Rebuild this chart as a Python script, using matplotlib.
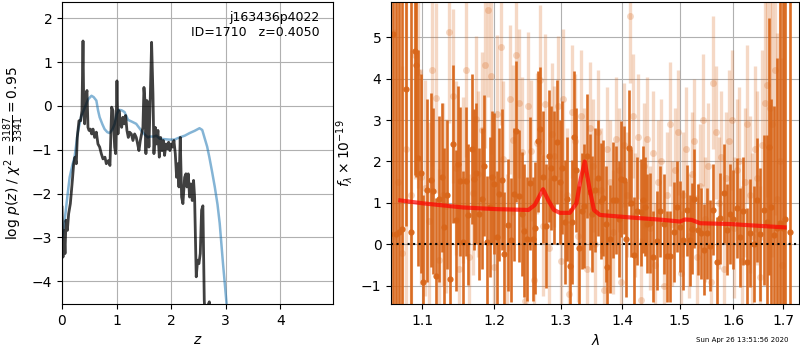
import numpy as np
import matplotlib
matplotlib.use('Agg')
import matplotlib.pyplot as plt
from matplotlib.ticker import FixedLocator, FixedFormatter, NullLocator

# ---- left panel: p(z) and chi2 curves
z_pz = [0.0, 0.018, 0.037, 0.055, 0.073, 0.098, 0.122, 0.153, 0.19, 0.214, 0.238, 0.262, 0.28, 0.311,
        0.342, 0.366, 0.385, 0.397, 0.415, 0.433, 0.458, 0.476, 0.495, 0.519, 0.543, 0.568, 0.598,
        0.629, 0.659, 0.69, 0.72, 0.751, 0.787, 0.812, 0.849, 0.879, 0.91, 0.934, 0.965, 0.983,
        1.007, 1.026, 1.044, 1.068, 1.093, 1.117, 1.142, 1.166, 1.19, 1.215, 1.239, 1.27, 1.3,
        1.331, 1.361, 1.386, 1.41, 1.435, 1.459, 1.483, 1.502, 1.52, 1.538, 1.557, 1.575, 1.593,
        1.618, 1.642, 1.667, 1.685, 1.709, 1.734, 1.758, 1.783, 1.807, 1.832, 1.856, 1.88, 1.905,
        1.929, 1.954, 1.978, 2.002, 2.027, 2.051, 2.076, 2.1, 2.125, 2.143, 2.167, 2.192, 2.216,
        2.247, 2.271, 2.289, 2.314, 2.338, 2.363, 2.387, 2.411, 2.43, 2.46, 2.485, 2.509, 2.534,
        2.558, 2.582, 2.607, 2.625, 2.66, 2.7, 2.72]
log_pz = [-2.31, -3.45, -2.84, -3.37, -2.61, -2.84, -2.46, -2.23, -1.70, -1.32, -1.17, -1.32, -0.72,
          -0.34, -0.34, -0.11, 1.48, 0.12, -0.41, 0.2, 0.35, -0.49, -0.56, -0.53, -0.64, -0.53, -0.72,
          -0.6, -0.87, -0.94, -1.09, -1.21, -1.17, -1.32, -1.25, -1.36, -0.03, -0.11, -0.94, -1.09,
          0.57, -0.64, -0.11, -0.34, -0.49, -0.26, -0.41, -0.22, -0.56, -0.72, -0.6, -0.64, -0.79,
          -0.64, -0.72, -0.87, -1.02, -0.79, -0.64, -0.49, 0.42, 0.12, -1.09, 0.12, -0.11, -0.94,
          0.2, 1.45, 0.27, -1.09, -0.49, -0.87, -0.56, -1.17, -0.72, -1.02, -0.79, -1.13, -0.87,
          -0.98, -0.83, -1.02, -0.87, -0.94, -0.79, -1.09, -1.63, -1.32, -1.85, -0.72, -2.08, -2.23,
          -1.63, -1.55, -1.85, -1.55, -2.08, -1.78, -2.16, -1.7, -2.08, -3.9, -3.52, -3.6, -3.37,
          -2.38, -2.28, -4.43, -4.9, -4.6, -4.47, -5.2]

z_chi = [0.0, 0.05, 0.10, 0.14, 0.19, 0.23, 0.29, 0.35, 0.42, 0.48, 0.54, 0.58, 0.63, 0.66, 0.69,
         0.74, 0.78, 0.83, 0.87, 0.92, 0.965, 1.0, 1.04, 1.09, 1.145, 1.21, 1.28, 1.36, 1.45, 1.52,
         1.575, 1.606, 1.68, 1.73, 1.79, 1.88, 1.97, 2.06, 2.155, 2.25, 2.34, 2.43, 2.52, 2.57, 2.61,
         2.66, 2.70, 2.75, 2.80, 2.85, 2.89, 2.95, 3.01, 3.05]
chi_curve = [-3.05, -2.6, -2.05, -1.63, -1.35, -1.17, -0.6, -0.25, -0.03, 0.15, 0.23, 0.2, 0.12, -0.1,
             -0.26, -0.42, -0.53, -0.6, -0.62, -0.55, -0.41, -0.2, -0.09, -0.1, -0.14, -0.32, -0.36,
             -0.41, -0.56, -0.66, -0.72, -0.7, -0.7, -0.68, -0.75, -0.76, -0.77, -0.77, -0.72, -0.68,
             -0.62, -0.57, -0.51, -0.55, -0.72, -0.93, -1.17, -1.5, -1.85, -2.25, -2.68, -3.59, -4.43,
             -5.0]

# ---- right panel: spectrum, dark set
wave_a = [1.058, 1.062, 1.066, 1.070, 1.074, 1.079, 1.085, 1.090, 1.092, 1.095, 1.098, 1.101, 1.106,
          1.112, 1.115, 1.118, 1.122, 1.126, 1.129, 1.133, 1.137, 1.141, 1.145, 1.148, 1.151, 1.156,
          1.160, 1.162, 1.168, 1.171, 1.174, 1.178, 1.182, 1.185, 1.189, 1.193, 1.196, 1.199, 1.203,
          1.206, 1.211, 1.214, 1.220, 1.224, 1.228, 1.232, 1.236, 1.240, 1.244, 1.248, 1.252, 1.257,
          1.260, 1.265, 1.268, 1.273, 1.277, 1.281, 1.285, 1.289, 1.294, 1.299, 1.302, 1.306, 1.310,
          1.314, 1.317, 1.321, 1.324, 1.328, 1.333, 1.337, 1.341, 1.346, 1.350, 1.355, 1.359, 1.365,
          1.368, 1.372, 1.375, 1.379, 1.384, 1.390, 1.395, 1.398, 1.402, 1.406, 1.412, 1.415, 1.420,
          1.425, 1.431, 1.435, 1.439, 1.443, 1.447, 1.453, 1.459, 1.465, 1.472, 1.477, 1.483, 1.489,
          1.495, 1.501, 1.506, 1.513, 1.519, 1.523, 1.527, 1.533, 1.539, 1.545, 1.550, 1.556, 1.562,
          1.569, 1.575, 1.582, 1.588, 1.594, 1.600, 1.607, 1.613, 1.620, 1.627, 1.633, 1.640, 1.647,
          1.653, 1.660, 1.667, 1.670, 1.675, 1.680, 1.687, 1.693, 1.699, 1.704, 1.714]
flux_a = [0.25, 5.07, 0.25, 0.29, 0.36, 3.75, 0.3, 4.67, 4.32, 2.08, 1.72, -0.91, 1.3,
          1.55, 1.29, -0.77, 1.09, 1.62, 0.42, 1.2, -0.83, 2.42, 0.58, 1.93, 1.52, 0.06,
          1.52, 0.71, 2.3, 1.57, 1.72, 0.73, 1.1, 1.9, 0.06, 0.9, 1.63, 1.46, 0.17,
          1.21, 1.56, -0.24, 0.47, 0.1, 1.21, 2.73, 1.17, 0.74, 0.33, 0.13, 1.47, 0.13,
          0.39, 2.49, 2.79, 1.63, 0.44, 2.13, 1.85, 1.61, 2.47, 1.5, 1.85, 0.54, 1.1,
          -0.53, 0.54, 2.58, 1.8, -0.09, 0.8, 0.93, 2.13, 1.27, 0.73, 1.32, 1.6, 1.04,
          1.13, 0.5, -0.54, 0.13, 1.07, 1.07, 0.6, 1.58, 1.56, 0.13, 2.33, 0.99, -0.26,
          0.8, 0.77, 1.08, 0.91, 0.5, 0.51, -0.3, 0.09, 0.8, 0.49, -0.29, -0.29, 0.3,
          0.91, 0.43, 0.1, 0.82, 0.1, 0.38, 1.1, 0.35, 0.27, -0.13, 0.27, -0.03, 0.84,
          -0.43, 0.63, 1.23, 0.35, 0.73, 0.6, 0.88, 0.17, 0.8, -0.43, 0.27, 0.0, 1.07,
          0.24, 0.83, 0.55, 2.36, 0.91, 0.23, 0.39, 0.51, 0.4, 0.6, 0.3]
err_a = [8, 8, 8, 8, 6, 3.3, 6, 3.0, 2.7, 2.6, 2.4, 2.1, 2.2,
         2.1, 2.0, 1.9, 2.0, 1.8, 1.9, 1.8, 1.8, 1.9, 1.7, 1.9, 1.8, 1.7,
         1.8, 1.7, 1.8, 1.7, 1.7, 1.6, 1.7, 1.7, 1.6, 1.7, 1.6, 1.7, 1.6,
         1.6, 1.7, 1.5, 1.6, 1.5, 1.6, 1.7, 1.6, 1.5, 1.6, 1.5, 1.6, 1.5,
         1.6, 1.7, 1.5, 1.6, 1.5, 1.6, 1.5, 1.6, 1.5, 1.5, 1.6, 1.5, 1.5,
         1.4, 1.5, 1.6, 1.5, 1.5, 1.4, 1.5, 1.5, 1.4, 1.4, 1.5, 1.4, 1.4,
         1.4, 1.4, 1.4, 1.3, 1.4, 1.3, 1.4, 1.4, 1.3, 1.4, 1.4, 1.3, 1.4,
         1.3, 1.3, 1.3, 1.2, 1.2, 1.2, 1.1, 1.2, 1.1, 1.2, 1.1, 1.1, 1.2,
         1.1, 1.1, 1.2, 1.1, 1.1, 1.1, 1.2, 1.1, 1.1, 1.1, 1.1, 1.1, 1.1,
         1.1, 1.1, 1.2, 1.1, 1.2, 1.2, 1.2, 1.2, 1.3, 1.3, 1.3, 1.4, 1.5,
         1.6, 1.8, 2.1, 3.1, 2.6, 3.1, 4.1, 5.5, 6, 8, 8]

# ---- right panel: light set
wave_b = [1.063, 1.068, 1.074, 1.079, 1.085, 1.090, 1.094, 1.099, 1.104, 1.109, 1.113, 1.118, 1.123,
          1.128, 1.132, 1.136, 1.141, 1.146, 1.150, 1.155, 1.160, 1.164, 1.169, 1.173, 1.177, 1.182,
          1.186, 1.191, 1.195, 1.200, 1.204, 1.209, 1.213, 1.218, 1.222, 1.227, 1.231, 1.236, 1.240,
          1.245, 1.249, 1.254, 1.258, 1.263, 1.267, 1.272, 1.276, 1.281, 1.286, 1.290, 1.295, 1.300,
          1.304, 1.309, 1.313, 1.318, 1.323, 1.327, 1.332, 1.337, 1.341, 1.346, 1.351, 1.355, 1.360,
          1.365, 1.370, 1.374, 1.379, 1.384, 1.389, 1.394, 1.398, 1.403, 1.408, 1.413, 1.418, 1.422,
          1.427, 1.432, 1.437, 1.442, 1.447, 1.452, 1.457, 1.462, 1.467, 1.472, 1.477, 1.482, 1.487,
          1.492, 1.497, 1.502, 1.507, 1.512, 1.517, 1.522, 1.527, 1.532, 1.537, 1.542, 1.547, 1.552,
          1.557, 1.562, 1.567, 1.572, 1.577, 1.582, 1.587, 1.592, 1.597, 1.602, 1.607, 1.612, 1.617,
          1.622, 1.627, 1.632, 1.637, 1.642, 1.647, 1.652, 1.657, 1.662, 1.667, 1.672, 1.677, 1.682,
          1.687, 1.692, 1.697]
flux_b = [0.2, 1.5, -0.2, 2.3, 1.2, 4.57, 4.15, 1.63, 1.36, 0.56, 4.2, 3.53, -0.37,
          1.2, 0.93, 5.13, 3.57, 1.85, -0.6, 1.55, 4.2, -0.3, 1.25, 3.03, 1.7, 2.75,
          4.33, 5.66, 4.07, -0.55, 3.15, 4.77, 2.05, -0.1, 3.5, 2.52, 4.58, 3.4, 2.23,
          -1.37, 3.33, 2.26, -0.85, 2.44, 3.97, 0.45, 3.38, -0.1, 2.67, 2.13, 3.33, -0.4,
          3.5, 1.2, -1.2, 3.2, 2.5, 0.2, 3.1, 1.7, -0.6, 2.8, 1.9, 0.0, 2.7,
          1.3, -1.1, 2.3, 1.5, 0.3, 2.55, 1.8, -0.9, 2.4, 1.2, 5.5, 3.1, 0.7,
          2.6, -1.35, 1.9, 2.55, 0.4, 2.2, -0.5, 1.5, 2.0, -1.0, 1.2, 2.9, 0.5,
          1.8, 2.7, -0.7, 1.2, 2.3, 0.2, 1.7, 2.5, -0.3, 1.4, 3.0, 0.6, 1.9,
          -0.9, 3.9, 2.7, 1.0, 2.1, -0.6, 1.6, 2.5, 3.0, 0.4, 1.8, 2.0, -0.4,
          1.5, 2.9, 1.2, 0.2, 2.3, 1.6, -0.8, 2.4, 3.4, 3.85, 3.3, 2.9, 4.2,
          1.1, 2.0, -0.5]
err_b = [5, 5, 4.5, 4, 3.5, 3, 2.8, 2.6, 2.6, 2.4, 2.3, 2.3, 2.2,
         2.2, 2.1, 2.2, 2.1, 2.1, 2.0, 2.0, 2.1, 2.0, 2.0, 2.0, 2.0, 1.9,
         2.0, 2.1, 1.9, 1.9, 1.9, 1.9, 1.9, 1.8, 1.8, 1.8, 1.9, 1.8, 1.8,
         1.8, 1.8, 1.7, 1.7, 1.7, 1.8, 1.7, 1.7, 1.7, 1.7, 1.7, 1.7, 1.7,
         1.7, 1.6, 1.7, 1.6, 1.6, 1.6, 1.6, 1.6, 1.6, 1.6, 1.6, 1.6, 1.5,
         1.5, 1.5, 1.5, 1.5, 1.5, 1.5, 1.5, 1.5, 1.5, 1.5, 1.6, 1.5, 1.5,
         1.5, 1.5, 1.5, 1.5, 1.5, 1.5, 1.5, 1.5, 1.5, 1.5, 1.5, 1.5, 1.5,
         1.5, 1.5, 1.5, 1.5, 1.5, 1.5, 1.5, 1.5, 1.5, 1.5, 1.6, 1.5, 1.5,
         1.5, 1.6, 1.6, 1.6, 1.6, 1.6, 1.6, 1.7, 1.7, 1.7, 1.7, 1.8, 1.8,
         1.8, 1.9, 1.9, 2.0, 2.0, 2.1, 2.2, 2.3, 2.5, 2.7, 2.9, 3.2, 3.5,
         4, 4.5, 5]

# best-fit model
wave_m = [1.0713, 1.1008, 1.1554, 1.2034, 1.2501, 1.2597, 1.2724, 1.2802, 1.2891, 1.2986, 1.3140,
          1.3246, 1.3311, 1.3380, 1.3451, 1.3528, 1.3625, 1.4127, 1.4707, 1.5006, 1.5097, 1.5219,
          1.5373, 1.5940, 1.6595, 1.7023]
flux_m = [1.06, 0.99, 0.89, 0.85, 0.83, 0.95, 1.33, 1.07, 0.83, 0.76, 0.76,
          0.99, 1.55, 2.0, 1.39, 0.83, 0.71, 0.65, 0.59, 0.55, 0.60, 0.59,
          0.51, 0.49, 0.44, 0.41]

orange = '#d8661a'

fig = plt.figure(figsize=(8, 3.5), dpi=100)
ax = fig.add_axes([0.0775, 0.1314, 0.339, 0.863])
ax.plot(z_chi, chi_curve, color='#1f77b4', alpha=0.55, lw=1.8)
ax.plot(z_pz, log_pz, color='k', alpha=0.75, lw=2)
ax.set_xlim(0, 4.97)
ax.set_ylim(-4.52, 2.37)
ax.set_xticks([0, 1, 2, 3, 4])
ax.set_yticks([-4, -3, -2, -1, 0, 1, 2])
ax.grid()
ax.set_xlabel('$z$')
ax.set_ylabel(r'log $p(z)$ / $\chi^2=\frac{3187}{3341}=0.95$')
ax.text(0.95, 0.97, 'j163436p4022\nID=1710   z=0.4050', ha='right', va='top',
        transform=ax.transAxes, fontsize=9)

ax2 = fig.add_axes([0.489, 0.1314, 0.51, 0.863])
ax2.errorbar(wave_b, flux_b, yerr=err_b, fmt='o', color=orange, alpha=0.25,
             markersize=5, elinewidth=2.4, markeredgewidth=0)
ax2.errorbar(wave_a, flux_a, yerr=err_a, fmt='o', color=orange, alpha=0.95,
             markersize=4.5, elinewidth=1.9, markeredgewidth=0)
ax2.plot(wave_m, flux_m, color='r', alpha=0.7, lw=3, zorder=10)
ax2.axhline(0, color='k', ls=':', lw=1.5, zorder=11)
ax2.set_xscale('log')
ax2.set_xlim(1.0596, 1.7325)
ax2.set_ylim(-1.44, 5.85)
xt = [1.1, 1.2, 1.3, 1.4, 1.5, 1.6, 1.7]
ax2.xaxis.set_major_locator(FixedLocator(xt))
ax2.xaxis.set_major_formatter(FixedFormatter(['%.1f' % t for t in xt]))
ax2.xaxis.set_minor_locator(NullLocator())
ax2.set_yticks([-1, 0, 1, 2, 3, 4, 5])
ax2.grid()
ax2.set_xlabel(r'$\lambda$')
ax2.set_ylabel(r'$f_\lambda\times10^{-19}$')

fig.text(0.985, 0.02, 'Sun Apr 26 13:51:56 2020', ha='right', va='bottom', fontsize=5)

fig.savefig('out.png', dpi=100)
